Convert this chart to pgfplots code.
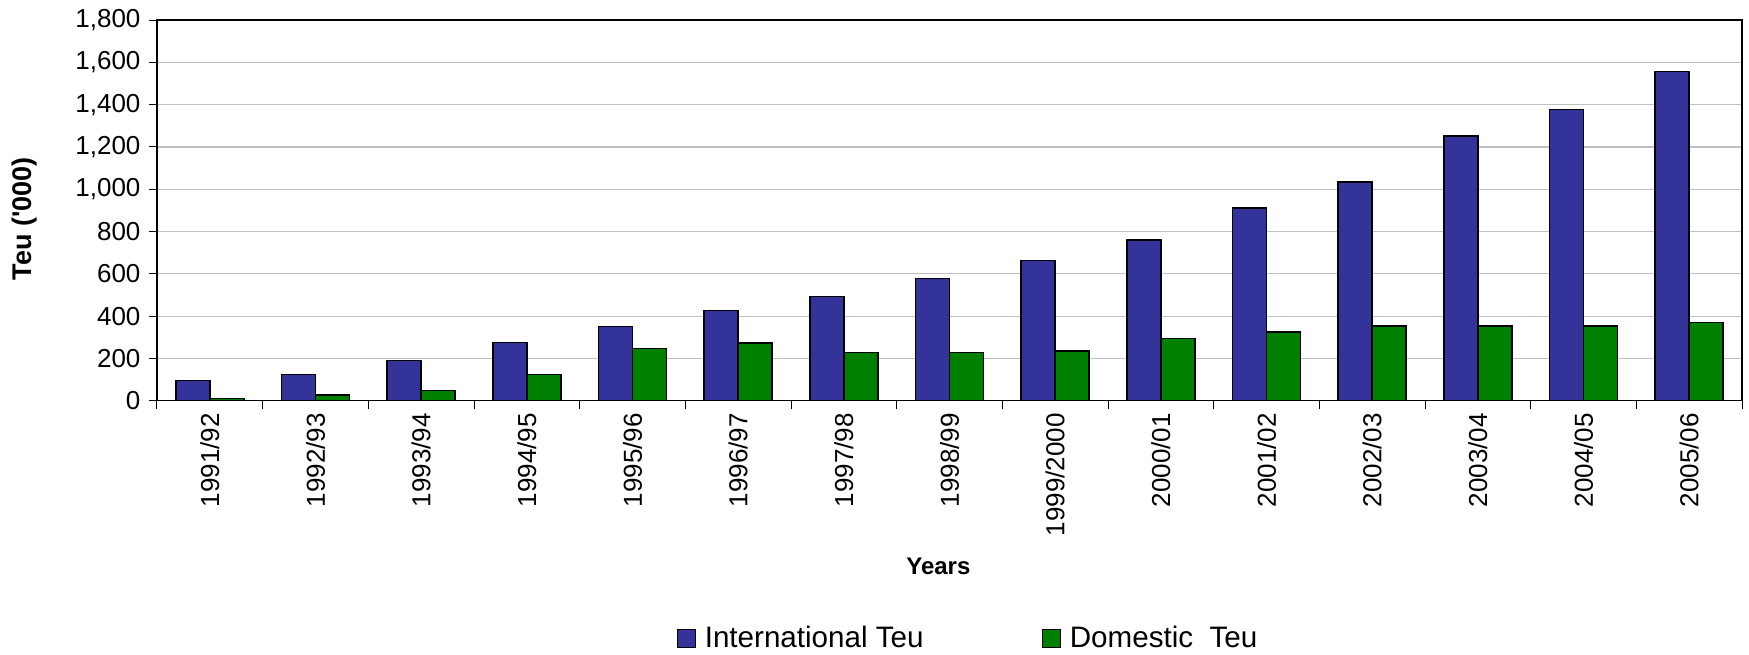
\documentclass[border=0pt]{standalone}
\usepackage{pgfplots}
\pgfplotsset{compat=1.18}
\usepackage{pgfplotstable}
\usepackage{fontspec}
\setmainfont{Liberation Sans}

\definecolor{intlblue}{HTML}{333399}
\definecolor{domgreen}{HTML}{008000}
\definecolor{gridgray}{HTML}{C0C0C0}

% Container throughput, thousands of TEU
\pgfplotstableread{
idx intl dom
0   95   10
1   123  28
2   191  49
3   276  123
4   350  246
5   426  274
6   493  227
7   578  227
8   663  236
9   760  295
10  911  325
11  1034 352
12  1252 352
13  1376 352
14  1556 370
}\teudata

\begin{document}
\begin{tikzpicture}
\useasboundingbox (-78.5pt,-126.65pt) rectangle (796pt,200.35pt);
\begin{axis}[
  at={(0pt,0pt)}, anchor=south west,
  scale only axis,
  width=792.5pt, height=190.35pt,
  ybar=0pt, bar width=17pt,
  xmin=-0.5, xmax=14.5,
  ymin=0, ymax=1800,
  ytick={0,200,...,1800},
  xtick={0,...,14},
  xticklabels={1991/92,1992/93,1993/94,1994/95,1995/96,1996/97,1997/98,1998/99,1999/2000,2000/01,2001/02,2002/03,2003/04,2004/05,2005/06},
  minor xtick={-0.5,0.5,...,14.5},
  xtick pos=bottom, ytick pos=left,
  major x tick style={draw=none},
  minor x tick style={black, line width=0.5pt},
  y tick style={black, line width=0.5pt},
  tick align=outside,
  major tick length=3.75pt,
  minor tick length=4pt,
  ymajorgrids,
  grid style={gridgray, line width=0.6pt},
  axis line style={black, line width=0.6pt},
  /pgf/number format/assume math mode=true,
  /pgf/number format/1000 sep={,},
  scaled y ticks=false,
  ticklabel style={font=\fontsize{13}{15}\selectfont},
  xticklabel style={rotate=90, anchor=east},
  xticklabel shift=-1pt,
  yticklabel shift=1pt,
  xlabel={Years},
  ylabel={Teu (\textquotesingle000)},
  xlabel style={font=\fontsize{12}{14}\selectfont\bfseries, at={(axis description cs:0.493,-0.434)}, anchor=center},
  ylabel style={font=\fontsize{13.5}{15}\selectfont\bfseries, at={(axis description cs:-0.0833,0.478)}, anchor=center},
  legend columns=2,
  legend style={draw=none, fill=none, at={(axis description cs:0.5123,-0.6245)}, anchor=center,
    font=\fontsize{14.8}{16}\selectfont,
    /tikz/every odd column/.append style={column sep=2.5pt},
    /tikz/every even column/.append style={column sep=57pt}},
  legend image code/.code={\draw[#1, line width=0.6pt] (0pt,-4.5pt) rectangle (9pt,4.5pt);},
]
\addplot[fill=intlblue, draw=black, line width=0.8pt] table[x=idx, y=intl] {\teudata};
\addplot[fill=domgreen, draw=black, line width=0.8pt] table[x=idx, y=dom] {\teudata};
\legend{International Teu, Domestic\ \ Teu}
\end{axis}
\end{tikzpicture}
\end{document}
